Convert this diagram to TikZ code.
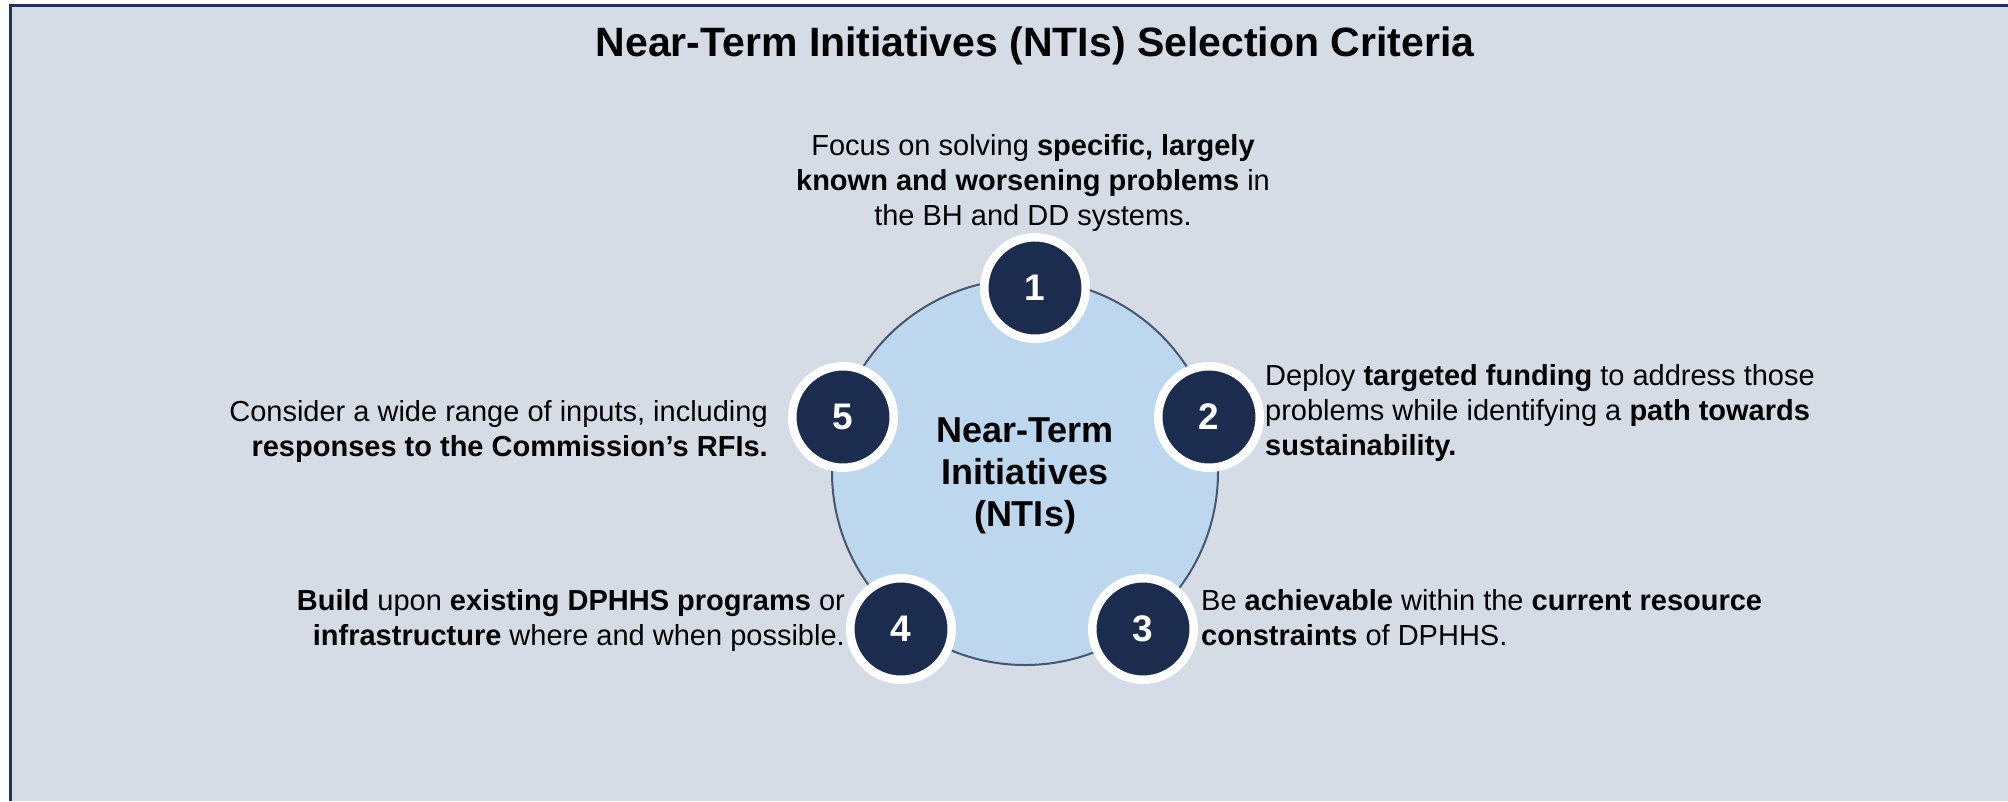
\documentclass[tikz,border=0pt]{standalone}
\usepackage{fontspec}
\setmainfont{Liberation Sans}
\definecolor{bgfill}{HTML}{D5DCE6}
\definecolor{framec}{HTML}{1F345A}
\definecolor{corefill}{HTML}{BDD7EE}
\definecolor{coreline}{HTML}{45566E}
\definecolor{navy}{HTML}{1B2C4F}
\begin{document}
\begin{tikzpicture}[x=1pt,y=-1pt,
  badge/.style={circle, fill=navy, draw=white, line width=8.5pt, minimum size=101.5pt, inner sep=0pt,
    text=white, font=\bfseries\fontsize{37}{44}\selectfont},
  body/.style={inner sep=0pt, font=\fontsize{29}{35}\selectfont, text=black}]
\useasboundingbox (0,0) rectangle (2008,801);
\fill[white] (0,0) rectangle (2008,801);
\fill[bgfill] (9,4) rectangle (2008,801);
\draw[framec, line width=3pt] (10.5,801) -- (10.5,5.5) -- (2008,5.5);

\node[inner sep=0pt, font=\bfseries\fontsize{41}{48}\selectfont] (title) at (1035,46) {Near-Term Initiatives (NTIs) Selection Criteria};

\node[circle, fill=corefill, draw=coreline, line width=2pt, minimum size=386pt, inner sep=0pt] (core) at (1025,472) {};
\node[inner sep=0pt, align=center, font=\bfseries\fontsize{36}{42}\selectfont] (coretext) at (1025,476) {Near-Term\\Initiatives\\(NTIs)};

\node[badge] (b1) at (1035,288) {1};
\node[badge] (b2) at (1209,417) {2};
\node[badge] (b3) at (1143,629) {3};
\node[badge] (b4) at (901,629) {4};
\node[badge] (b5) at (843,417) {5};

\node[body, align=center] (t1) at (1033,183) {Focus on solving \textbf{specific, largely}\\\textbf{known and worsening problems} in\\the BH and DD systems.};
\node[body, align=left, anchor=west] (t2) at (1265,413) {Deploy \textbf{targeted funding} to address those\\problems while identifying a \textbf{path towards}\\\textbf{sustainability.}};
\node[body, align=left, anchor=west] (t3) at (1201,618) {Be \textbf{achievable} within the \textbf{current resource}\\\textbf{constraints} of DPHHS.};
\node[body, align=right, anchor=east] (t4) at (845,620) {\textbf{Build} upon \textbf{existing DPHHS programs} or\\\textbf{infrastructure} where and when possible.};
\node[body, align=right, anchor=east] (t5) at (768,431.5) {Consider a wide range of inputs, including\\\textbf{responses to the Commission’s RFIs.}};
\end{tikzpicture}
\end{document}
